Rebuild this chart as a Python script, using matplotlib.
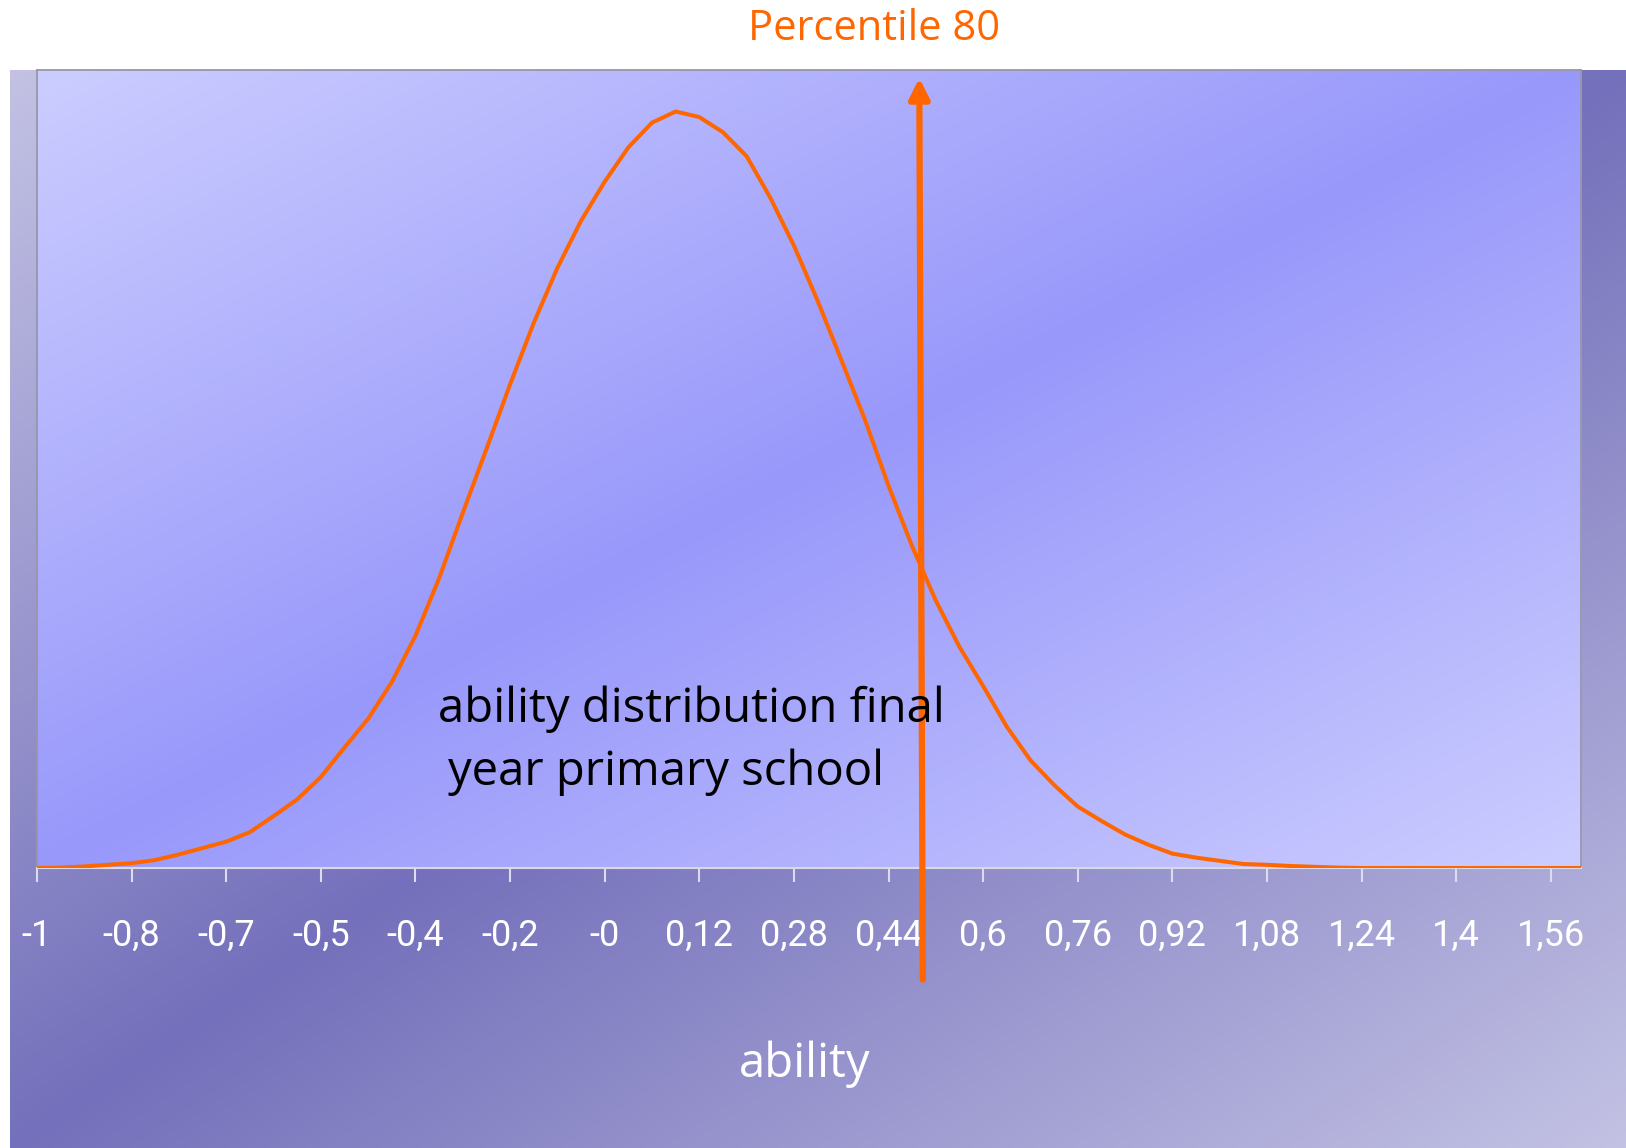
import numpy as np
import matplotlib
matplotlib.use("Agg")
import matplotlib.pyplot as plt
from matplotlib.colors import to_rgb

# ---------------- data ----------------
ability = [-1.00, -0.96, -0.92, -0.88, -0.84, -0.80, -0.76, -0.72, -0.68, -0.64,
           -0.60, -0.56, -0.52, -0.48, -0.44, -0.40, -0.36, -0.32, -0.28, -0.24,
           -0.20, -0.16, -0.12, -0.08, -0.04, 0.00, 0.04, 0.08, 0.12, 0.16,
           0.20, 0.24, 0.28, 0.32, 0.36, 0.40, 0.44, 0.48, 0.52, 0.56,
           0.60, 0.64, 0.68, 0.72, 0.76, 0.80, 0.84, 0.88, 0.92, 0.96,
           1.00, 1.04, 1.08, 1.12, 1.16, 1.20, 1.24, 1.28, 1.32, 1.36,
           1.40, 1.44, 1.48, 1.52, 1.56, 1.61]
frequency = [0.0, 0.05, 0.2, 0.4, 0.6, 1.0, 1.7, 2.5, 3.3, 4.5,
             6.5, 8.6, 11.4, 15.1, 18.7, 23.3, 29.1, 36.3, 44.5, 52.5,
             60.6, 68.3, 75.2, 81.1, 86.0, 90.3, 93.4, 94.8, 94.1, 92.2,
             89.2, 84.0, 78.0, 71.1, 63.7, 56.2, 47.9, 40.3, 33.5, 27.7,
             22.8, 17.7, 13.5, 10.4, 7.7, 5.9, 4.2, 2.9, 1.8, 1.3,
             0.9, 0.5, 0.4, 0.25, 0.15, 0.05, 0.0, 0.0, 0.0, 0.0,
             0.0, 0.0, 0.0, 0.0, 0.0, 0.0]
tick_values = [-1.00, -0.84, -0.68, -0.52, -0.36, -0.20, -0.04, 0.12, 0.28,
               0.44, 0.60, 0.76, 0.92, 1.08, 1.24, 1.40, 1.56]
tick_labels = ["-1", "-0,8", "-0,7", "-0,5", "-0,4", "-0,2", "-0", "0,12", "0,28",
               "0,44", "0,6", "0,76", "0,92", "1,08", "1,24", "1,4", "1,56"]
percentile_80 = 0.495

ORANGE = "#ff6600"
W, H = 1626, 1148

fig = plt.figure(figsize=(W / 100, H / 100), dpi=100)
fig.patch.set_facecolor("white")


def diag_gradient(light, dark, n=400):
    u = np.linspace(0, 1, n)[None, :]
    w = np.linspace(0, 1, n)[:, None]
    t = np.abs((u + w) - 1.0)  # 0 on anti-diagonal, 1 at TL/BR corners
    l = np.array(to_rgb(light))
    d = np.array(to_rgb(dark))
    return d[None, None, :] + (l - d)[None, None, :] * t[:, :, None]


# outer chart area with gradient
bg = fig.add_axes([10 / W, 0, (W - 10) / W, (H - 70) / H])
bg.imshow(diag_gradient("#c3c2e4", "#7470bb"), aspect="auto",
          extent=[0, 1, 0, 1], origin="upper", interpolation="bilinear")
bg.set_axis_off()
bg.set_zorder(0)

# plot area
ax = fig.add_axes([37 / W, 1 - 868 / H, 1544 / W, 798 / H])
ax.set_zorder(1)
ax.patch.set_visible(False)
ax.imshow(diag_gradient("#cccdff", "#9898fb"), aspect="auto",
          extent=[0, 1, 0, 1], origin="upper", transform=ax.transAxes,
          interpolation="bilinear", zorder=0)

ax.plot(ability, frequency, color=ORANGE, lw=2.9, solid_joinstyle="round", zorder=3)

ax.set_xlim(-1.0, 1.611)
ax.set_ylim(0, 100)
ax.set_xticks(tick_values)
ax.set_xticklabels(tick_labels, color="white", fontsize=26, family="Roboto")
ax.tick_params(axis="x", direction="out", length=10, width=1.5, colors="#dcdcee",
               pad=26, labelcolor="white")
ax.set_yticks([])
for side in ("left", "top", "right"):
    ax.spines[side].set_color("#9696aa")
    ax.spines[side].set_linewidth(1.3)
ax.spines["bottom"].set_color("#d8d8e6")
ax.spines["bottom"].set_linewidth(1.5)

# percentile 80 arrow
ax.annotate("", xy=(percentile_80 - 0.003, 0.99),
            xytext=(percentile_80 + 0.003, -0.14),
            xycoords=ax.get_xaxis_transform(), textcoords=ax.get_xaxis_transform(),
            arrowprops=dict(arrowstyle="-|>", color=ORANGE, lw=4.5,
                            mutation_scale=30, shrinkA=0, shrinkB=0),
            annotation_clip=False, zorder=5)

# texts
fig.text(874 / W, 1 - 29 / H, "Percentile 80", color=ORANGE, fontsize=30,
         family="Open Sans", ha="center", va="center")
fig.text(438 / W, 1 - 709 / H, "ability distribution final", color="black",
         fontsize=34, family="Open Sans", ha="left", va="center", zorder=10)
fig.text(448 / W, 1 - 772 / H, "year primary school", color="black",
         fontsize=34, family="Open Sans", ha="left", va="center", zorder=10)
fig.text(805 / W, 1 - 1064 / H, "ability", color="white", fontsize=34,
         family="Open Sans", ha="center", va="center", zorder=10)

fig.savefig("out.png", dpi=100)
